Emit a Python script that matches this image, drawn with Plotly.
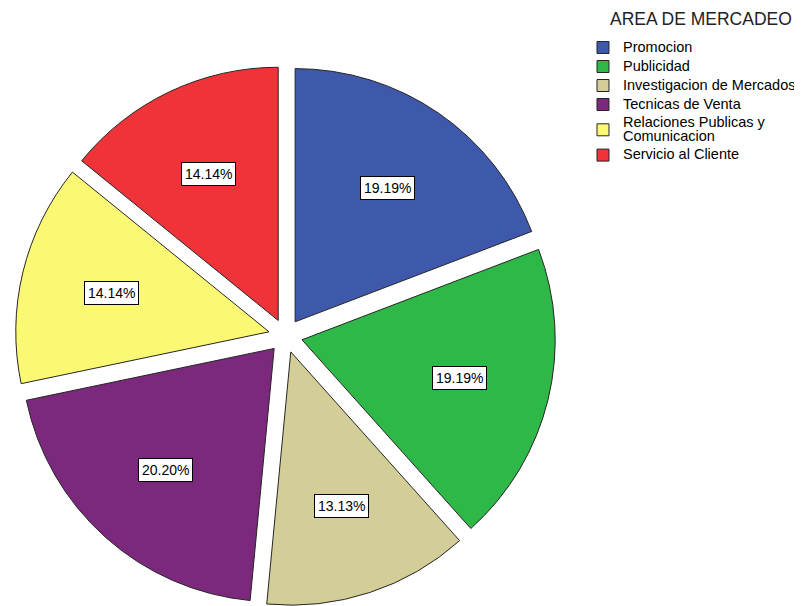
import math
import plotly.graph_objects as go

# ---- data ----
categories = ["Promocion", "Publicidad", "Investigacion de Mercados",
              "Tecnicas de Venta", "Relaciones Publicas y<br>Comunicacion",
              "Servicio al Cliente"]
counts = [19, 19, 13, 20, 14, 14]
colors = ["#3E58AC", "#2EB848", "#D3CE97", "#7C287D", "#FBF873", "#EF3338"]
legend_title = "AREA DE MERCADEO"

# ---- layout parameters ----
W, H = 794, 598
PULL = 0.067
dom_x = [0.00919, 0.68980]
dom_y = [0.0, 0.90368]
FONT = "Liberation Sans, Arial, sans-serif"


def styled(label):
    return "<br>".join('<span style="font-size:14.5px">%s</span>' % p
                       for p in label.split("<br>"))


fig = go.Figure(go.Pie(
    labels=[styled(c) for c in categories],
    values=counts,
    sort=False,
    direction="clockwise",
    rotation=0,
    pull=PULL,
    marker=dict(colors=colors, line=dict(color="#262626", width=1)),
    textinfo="none",
    hoverinfo="label+percent",
    domain=dict(x=dom_x, y=dom_y),
))

# percentage labels placed along each slice's bisector
total = sum(counts)
wpx = (dom_x[1] - dom_x[0]) * W
hpx = (dom_y[1] - dom_y[0]) * H
R = min(wpx, hpx) / (2 * (1 + PULL))
cx = (dom_x[0] + dom_x[1]) / 2
cy = (dom_y[0] + dom_y[1]) / 2
dist = 0.709 * R
cum = 0
annotations = []
for v in counts:
    mid = (cum + v / 2) / total * 2 * math.pi
    cum += v
    annotations.append(dict(
        x=cx + dist * math.sin(mid) / W,
        y=cy + dist * math.cos(mid) / H,
        xref="paper", yref="paper",
        xanchor="center", yanchor="middle",
        text="%.2f%%" % (v / total * 100),
        showarrow=False,
        font=dict(family=FONT, size=14, color="#000000"),
        bgcolor="#ffffff",
        bordercolor="#000000",
        borderwidth=1,
        borderpad=3,
    ))

# legend heading
annotations.append(dict(
    x=0.75567, y=0.98244, xref="paper", yref="paper",
    xanchor="left", yanchor="middle",
    text=legend_title, showarrow=False,
    font=dict(family=FONT, size=17.5, color="#222222"),
))

fig.update_layout(
    width=W, height=H,
    margin=dict(l=0, r=0, t=0, b=0, autoexpand=False),
    paper_bgcolor="#ffffff",
    plot_bgcolor="#ffffff",
    font=dict(family=FONT, color="#000000"),
    showlegend=True,
    legend=dict(
        x=0.72418, y=0.95819, xanchor="left", yanchor="top",
        font=dict(family=FONT, size=11, color="#000000"),
        bgcolor="rgba(0,0,0,0)",
        traceorder="normal",
    ),
    annotations=annotations,
)

fig.write_html("out.html")
